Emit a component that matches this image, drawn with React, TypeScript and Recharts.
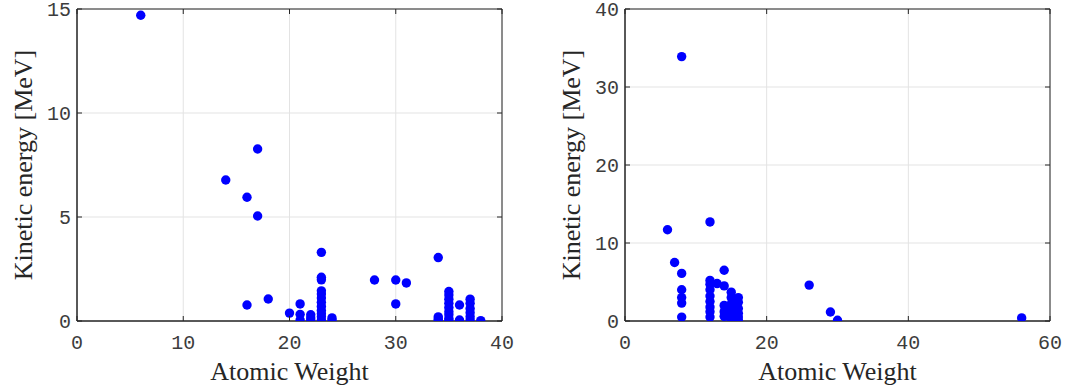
import React from "react";
import {
  ScatterChart,
  Scatter,
  XAxis,
  YAxis,
  CartesianGrid,
  ReferenceArea,
} from "recharts";

// Left panel: atomic weight vs kinetic energy
const leftWeights = [
  6, 14, 16, 17, 17, 16, 18, 20, 21, 21, 21, 22, 22, 22,
  23, 23, 23, 23, 23, 23, 23, 23, 23, 23, 23, 23, 24, 24,
  28, 30, 30, 31, 34, 34, 34, 34,
  35, 35, 35, 35, 35, 35, 35, 35, 35, 36, 36,
  37, 37, 37, 37, 37, 37, 38,
];
const leftEnergies = [
  14.7, 6.78, 5.95, 8.27, 5.05, 0.77, 1.06, 0.38, 0.82, 0.32, 0.05, 0.3, 0.15, 0.02,
  3.3, 2.1, 1.98, 1.45, 1.3, 1.1, 0.9, 0.7, 0.5, 0.35, 0.2, 0.05, 0.15, 0.05,
  1.97, 1.97, 0.82, 1.83, 3.05, 0.2, 0.1, 0.02,
  1.42, 1.25, 1.05, 0.85, 0.65, 0.45, 0.3, 0.12, 0.02, 0.77, 0.05,
  1.05, 0.85, 0.6, 0.4, 0.2, 0.05, 0.02,
];

// Right panel
const rightWeights = [
  6, 7, 8, 8, 8, 8, 8, 8,
  12, 12, 12, 12, 12, 12, 12, 12, 12, 13,
  14, 14, 14, 14, 14,
  15, 15, 15, 15, 15, 15, 15,
  16, 16, 16, 16, 16, 16,
  26, 29, 30, 56,
];
const rightEnergies = [
  11.7, 7.5, 33.9, 6.1, 4.0, 3.0, 2.3, 0.5,
  12.7, 5.2, 4.7, 4.0, 3.2, 2.5, 1.8, 1.2, 0.5, 4.8,
  6.5, 4.5, 2.0, 1.2, 0.6,
  3.7, 3.0, 2.2, 1.6, 0.9, 0.4, 0.1,
  3.0, 2.4, 1.6, 1.0, 0.5, 0.1,
  4.6, 1.15, 0.1, 0.4,
];

const leftXTicks = [0, 10, 20, 30, 40];
const leftYTicks = [0, 5, 10, 15];
const rightXTicks = [0, 20, 40, 60];
const rightYTicks = [0, 10, 20, 30, 40];

const X_LABEL = "Atomic Weight";
const Y_LABEL = "Kinetic energy [MeV]";

const AXIS_COLOR = "#262626";
const TICK_TEXT_COLOR = "#3c3c3c";
const GRID_COLOR = "#e3e3e3";
const DOT_COLOR = "#0000ff";
const TICK_FONT = "'Liberation Mono', 'DejaVu Sans Mono', monospace";
const LABEL_FONT = "'Liberation Serif', 'DejaVu Serif', serif";
const TICK_LEN = 5;

const W = 535;
const H = 391;
const TOP = 9;
const X_AXIS_H = 70;

type PanelProps = {
  xs: number[];
  ys: number[];
  xTicks: number[];
  yTicks: number[];
  yAxisWidth: number;
  rightMargin: number;
};

function Dot(props: any) {
  return <circle cx={props.cx} cy={props.cy} r={4.7} fill={DOT_COLOR} />;
}

function Panel({ xs, ys, xTicks, yTicks, yAxisWidth, rightMargin }: PanelProps) {
  const data = xs.map((x, i) => ({ x, y: ys[i] }));
  const xMax = xTicks[xTicks.length - 1];
  const yMax = yTicks[yTicks.length - 1];
  const plotLeft = yAxisWidth;
  const plotRight = W - rightMargin;

  const XTick = (p: any) => {
    const { x, y, payload } = p;
    return (
      <g>
        <line x1={x} x2={x} y1={y} y2={y - TICK_LEN} stroke={AXIS_COLOR} />
        <line x1={x} x2={x} y1={TOP} y2={TOP + TICK_LEN} stroke={AXIS_COLOR} />
        <text
          x={x}
          y={y + 22}
          textAnchor="middle"
          dominantBaseline="central"
          fontFamily={TICK_FONT}
          fontSize={20}
          fill={TICK_TEXT_COLOR}
        >
          {payload.value}
        </text>
      </g>
    );
  };

  const YTick = (p: any) => {
    const { x, y, payload } = p;
    return (
      <g>
        <line x1={x} x2={x + TICK_LEN} y1={y} y2={y} stroke={AXIS_COLOR} />
        <line x1={plotRight - TICK_LEN} x2={plotRight} y1={y} y2={y} stroke={AXIS_COLOR} />
        <text
          x={x - 6}
          y={y + 1}
          textAnchor="end"
          dominantBaseline="central"
          fontFamily={TICK_FONT}
          fontSize={20}
          fill={TICK_TEXT_COLOR}
        >
          {payload.value}
        </text>
      </g>
    );
  };

  const XTitle = (p: any) => {
    const vb = p.viewBox;
    return (
      <text
        x={vb.x + vb.width / 2}
        y={vb.y + 59}
        textAnchor="middle"
        fontFamily={LABEL_FONT}
        fontSize={26}
        fill={AXIS_COLOR}
      >
        {X_LABEL}
      </text>
    );
  };

  const YTitle = (p: any) => {
    const vb = p.viewBox;
    const cx = plotLeft - 54;
    const cy = vb.y + vb.height / 2;
    return (
      <text
        x={cx}
        y={cy}
        transform={`rotate(-90 ${cx} ${cy})`}
        textAnchor="middle"
        dominantBaseline="central"
        fontFamily={LABEL_FONT}
        fontSize={26}
        fill={AXIS_COLOR}
      >
        {Y_LABEL}
      </text>
    );
  };

  return (
    <ScatterChart
      width={W}
      height={H}
      margin={{ top: TOP, right: rightMargin, left: 0, bottom: 0 }}
    >
      <CartesianGrid stroke={GRID_COLOR} horizontalValues={yTicks} verticalValues={xTicks} />
      <XAxis
        type="number"
        dataKey="x"
        domain={[0, xMax]}
        ticks={xTicks}
        interval={0}
        height={X_AXIS_H}
        axisLine={{ stroke: AXIS_COLOR }}
        tickLine={false}
        tickSize={0}
        tickMargin={0}
        tick={<XTick />}
        label={<XTitle />}
        allowDataOverflow
      />
      <YAxis
        type="number"
        dataKey="y"
        domain={[0, yMax]}
        ticks={yTicks}
        interval={0}
        width={yAxisWidth}
        axisLine={{ stroke: AXIS_COLOR }}
        tickLine={false}
        tickSize={0}
        tickMargin={0}
        tick={<YTick />}
        label={<YTitle />}
        allowDataOverflow
      />
      <ReferenceArea
        x1={0}
        x2={xMax}
        y1={0}
        y2={yMax}
        fill="none"
        stroke={AXIS_COLOR}
        strokeWidth={1}
        ifOverflow="visible"
      />
      <Scatter data={data} shape={<Dot />} isAnimationActive={false} />
    </ScatterChart>
  );
}

export default function App() {
  return (
    <div style={{ position: "absolute", left: 0, top: 0, width: 1070, height: 391, background: "#fff" }}>
      <div style={{ position: "absolute", left: 0, top: 0 }}>
        <Panel
          xs={leftWeights}
          ys={leftEnergies}
          xTicks={leftXTicks}
          yTicks={leftYTicks}
          yAxisWidth={77}
          rightMargin={33}
        />
      </div>
      <div style={{ position: "absolute", left: 535, top: 0 }}>
        <Panel
          xs={rightWeights}
          ys={rightEnergies}
          xTicks={rightXTicks}
          yTicks={rightYTicks}
          yAxisWidth={90}
          rightMargin={20}
        />
      </div>
    </div>
  );
}
